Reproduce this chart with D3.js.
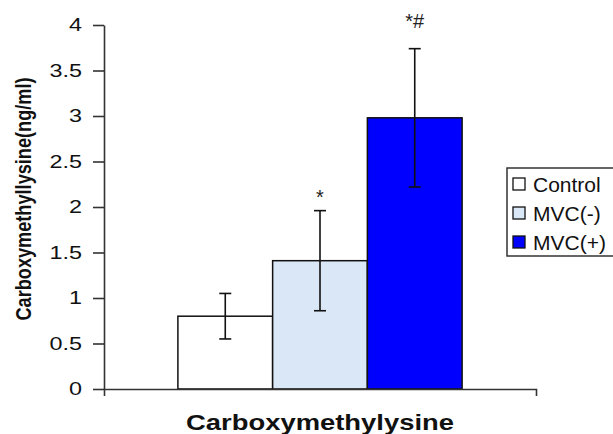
<!DOCTYPE html>
<html><head><meta charset="utf-8">
<script src="https://cdn.jsdelivr.net/npm/d3@7"></script>
<style>body{margin:0;background:#fff}svg{display:block}text{font-family:"Liberation Sans",Arial,sans-serif}</style>
</head><body>
<svg id="c" width="613" height="434"></svg>
<script>
const categories = ["Carboxymethylysine"];
const series = ["Control", "MVC(-)", "MVC(+)"];
const values = [0.80, 1.41, 2.98];
const errors = [0.25, 0.55, 0.76];
const marks = ["", "*", "*#"];
const colors = ["#ffffff", "#d9e7f6", "#0000ff"];
const yTicks = [0, 0.5, 1, 1.5, 2, 2.5, 3, 3.5, 4];

// layout constants (not data)
const markLift = [0, 7, 21];

const svg = d3.select("#c");
const y = d3.scaleLinear().domain([0, 4]).range([389, 25]);
const x0 = d3.scaleBand().domain(categories).range([104, 536]).paddingInner(0).paddingOuter(0.26);
const x1 = d3.scaleBand().domain(series).range([0, x0.bandwidth()]);

// y axis
const ya = svg.append("g").attr("transform", "translate(104,0)")
  .call(d3.axisLeft(y).tickValues(yTicks).tickFormat(d3.format("")).tickSize(11).tickSizeOuter(0));
ya.selectAll("path,line").attr("stroke", "#333").attr("stroke-width", 1.6);
ya.selectAll("text").attr("x", -17).attr("transform", "scale(1.3,1)")
  .attr("font-size", 18).attr("fill", "#111").attr("font-family", "Liberation Sans, Arial, sans-serif");

// bars
const g = svg.append("g").attr("transform", `translate(${x0(categories[0])},0)`);
g.selectAll("rect").data(values).join("rect")
  .attr("x", (d, i) => x1(series[i]))
  .attr("width", x1.bandwidth())
  .attr("y", d => y(d))
  .attr("height", d => y(0) - y(d))
  .attr("fill", (d, i) => colors[i])
  .attr("stroke", "#111").attr("stroke-width", 1.5);

// error bars
const eb = g.selectAll("g.err").data(values).join("g").attr("class", "err")
  .attr("transform", (d, i) => `translate(${x1(series[i]) + x1.bandwidth() / 2},0)`);
eb.append("line").attr("y1", (d, i) => y(d + errors[i])).attr("y2", (d, i) => y(d - errors[i]))
  .attr("stroke", "#111").attr("stroke-width", 1.6);
eb.append("line").attr("x1", -6).attr("x2", 6).attr("y1", (d, i) => y(d + errors[i])).attr("y2", (d, i) => y(d + errors[i]))
  .attr("stroke", "#111").attr("stroke-width", 1.6);
eb.append("line").attr("x1", -6).attr("x2", 6).attr("y1", (d, i) => y(d - errors[i])).attr("y2", (d, i) => y(d - errors[i]))
  .attr("stroke", "#111").attr("stroke-width", 1.6);
eb.append("text").attr("text-anchor", "middle").attr("y", (d, i) => y(d + errors[i]) - markLift[i])
  .attr("font-size", 20).attr("fill", "#222")
  .text((d, i) => marks[i]);

// x axis
const xa = svg.append("g").attr("transform", "translate(0,389)")
  .call(d3.axisBottom(x0).tickValues([]).tickSizeOuter(7));
xa.selectAll("path").attr("stroke", "#333").attr("stroke-width", 1.6);

// x title
svg.append("text").attr("x", 320).attr("y", 430).attr("text-anchor", "middle")
  .attr("font-size", 22).attr("font-weight", "bold").attr("fill", "#111")
  .attr("textLength", 268).attr("lengthAdjust", "spacingAndGlyphs")
  .text(categories[0]);

// y title
svg.append("text").attr("transform", "translate(31,199) scale(1.3,1) rotate(-90)").attr("text-anchor", "middle")
  .attr("font-size", 17).attr("font-weight", "bold").attr("fill", "#111")
  .attr("textLength", 243).attr("lengthAdjust", "spacingAndGlyphs")
  .text("Carboxymethyllysine(ng/ml)");

// legend
const lg = svg.append("g");
lg.append("rect").attr("x", 507).attr("y", 168).attr("width", 110).attr("height", 88)
  .attr("fill", "#fff").attr("stroke", "#333").attr("stroke-width", 1.5);
const li = lg.selectAll("g.li").data(series).join("g").attr("class", "li")
  .attr("transform", (d, i) => `translate(513,${184 + i * 29})`);
li.append("rect").attr("x", 0).attr("y", -6).attr("width", 12).attr("height", 12)
  .attr("fill", (d, i) => colors[i]).attr("stroke", "#111").attr("stroke-width", 1.3);
li.append("text").attr("x", 20).attr("y", 7.5).attr("font-size", 21).attr("fill", "#111").text(d => d);
</script>
</body></html>
